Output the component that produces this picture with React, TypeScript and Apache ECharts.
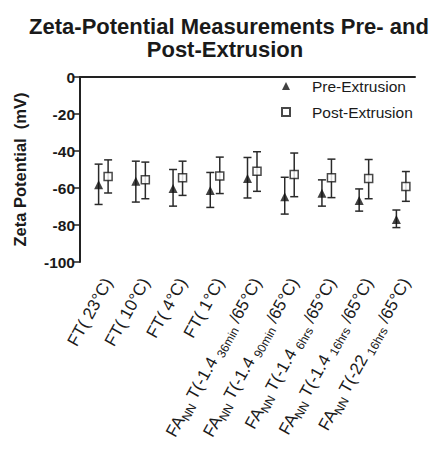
import React, { useEffect, useRef } from 'react';
import * as echarts from 'echarts';

const categories = [
  '{n|FT( 23°C)}',
  '{n|FT( 10°C)}',
  '{n|FT( 4°C)}',
  '{n|FT( 1°C)}',
  '{n|FA}{s|NN}{n| T(-1.4 }{s|36min}{n| /65°C)}',
  '{n|FA}{s|NN}{n| T(-1.4 }{s|90min}{n| /65°C)}',
  '{n|FA}{s|NN}{n| T(-1.4 }{s|6hrs}{n| /65°C)}',
  '{n|FA}{s|NN}{n| T(-1.4 }{s|16hrs}{n| /65°C)}',
  '{n|FA}{s|NN}{n| T(-22 }{s|16hrs}{n| /65°C)}',
];

const preMean = [-58.2, -56.4, -60.3, -61.4, -54.9, -64.7, -62.9, -66.8, -77.0];
const preHigh = [-47.1, -45.5, -50.0, -51.6, -43.5, -54.2, -55.6, -60.5, -71.9];
const preLow = [-68.9, -67.6, -69.8, -70.5, -65.4, -74.1, -69.8, -72.5, -81.4];

const postMean = [-53.8, -55.6, -54.5, -53.5, -50.9, -52.7, -54.5, -54.9, -59.2];
const postHigh = [-44.8, -46.0, -45.5, -43.3, -40.4, -41.1, -44.4, -44.6, -51.1];
const postLow = [-62.7, -65.8, -64.0, -63.0, -61.8, -64.7, -65.2, -65.8, -67.2];

const yTicks = [0, -20, -40, -60, -80, -100];

const FONT = "'Liberation Sans', Arial, Helvetica, sans-serif";
const INK = '#1a1a1a';
const POST_OFFSET = 9.5;

function errorBars(name: string, low: number[], high: number[], offset: number) {
  return {
    name,
    type: 'custom',
    z: 2,
    silent: true,
    encode: { x: 0, y: [1, 2] },
    data: categories.map((_, i) => [i, low[i], high[i]]),
    renderItem: (params: any, api: any) => {
      const idx = api.value(0);
      const pLo = api.coord([idx, api.value(1)]);
      const pHi = api.coord([idx, api.value(2)]);
      const cx = pLo[0] + offset;
      const hw = 4;
      const st = { stroke: '#2a2a2a', lineWidth: 1.5 };
      return {
        type: 'group',
        children: [
          { type: 'line', shape: { x1: cx, y1: pHi[1], x2: cx, y2: pLo[1] }, style: st },
          { type: 'line', shape: { x1: cx - hw, y1: pHi[1], x2: cx + hw, y2: pHi[1] }, style: st },
          { type: 'line', shape: { x1: cx - hw, y1: pLo[1], x2: cx + hw, y2: pLo[1] }, style: st },
        ],
      };
    },
  };
}

export default function App() {
  const ref = useRef<HTMLDivElement>(null);
  useEffect(() => {
    if (!ref.current) return;
    const chart = echarts.init(ref.current, undefined, { renderer: 'svg' });
    chart.setOption({
      animation: false,
      backgroundColor: '#ffffff',
      textStyle: { fontFamily: FONT },
      graphic: [
        {
          type: 'text',
          x: 229,
          y: 26,
          style: {
            text: 'Zeta-Potential Measurements Pre- and',
            font: `bold 22px ${FONT}`,
            fill: INK,
            textAlign: 'center',
            textVerticalAlign: 'middle',
          },
        },
        {
          type: 'text',
          x: 225,
          y: 49,
          style: {
            text: 'Post-Extrusion',
            font: `bold 22px ${FONT}`,
            fill: INK,
            textAlign: 'center',
            textVerticalAlign: 'middle',
          },
        },
      ],
      legend: {
        orient: 'vertical',
        left: 281,
        top: 78,
        itemWidth: 8,
        itemHeight: 8,
        itemGap: 10,
        padding: 0,
        textStyle: { fontSize: 15.5, color: INK, fontFamily: FONT, padding: [0, 0, 0, 17] },
        data: ['Pre-Extrusion', 'Post-Extrusion'],
      },
      grid: { left: 80, right: 16, top: 77, bottom: 192, containLabel: false },
      xAxis: {
        type: 'category',
        data: categories,
        boundaryGap: true,
        axisLine: { lineStyle: { color: '#222', width: 2 } },
        axisTick: { alignWithLabel: true, length: 7, lineStyle: { color: '#222', width: 1.5 } },
        axisLabel: {
          rotate: 61,
          margin: 12,
          interval: 0,
          color: INK,
          verticalAlign: 'top',
          rich: {
            n: { fontSize: 17, lineHeight: 22, color: INK, fontFamily: FONT },
            s: {
              fontSize: 12,
              lineHeight: 12,
              color: INK,
              fontFamily: FONT,
              verticalAlign: 'bottom',
              padding: [10, 0, 0, 0],
            },
          },
        },
        splitLine: { show: false },
      },
      yAxis: {
        type: 'value',
        min: -100,
        max: 0,
        interval: 20,
        name: 'Zeta Potential  (mV)',
        nameLocation: 'middle',
        nameGap: 52,
        nameTextStyle: { fontSize: 16.5, fontWeight: 'bold', color: INK, fontFamily: FONT },
        axisLine: { show: true, lineStyle: { color: '#222', width: 2 } },
        axisTick: { show: true, length: 7, lineStyle: { color: '#222', width: 1.5 } },
        axisLabel: {
          fontSize: 15.5,
          fontWeight: 'bold',
          color: INK,
          margin: 5,
          formatter: (v: number) => (yTicks.includes(v) ? String(v) : ''),
        },
        splitLine: { show: false },
      },
      series: [
        errorBars('preErr', preLow, preHigh, 0),
        errorBars('postErr', postLow, postHigh, POST_OFFSET),
        {
          name: 'Pre-Extrusion',
          type: 'scatter',
          z: 5,
          symbol: 'triangle',
          symbolSize: 9,
          itemStyle: { color: '#111' },
          data: preMean,
        },
        {
          name: 'Post-Extrusion',
          type: 'scatter',
          z: 5,
          symbol: 'rect',
          symbolSize: 8,
          symbolOffset: [POST_OFFSET, 0],
          itemStyle: { color: '#ffffff', borderColor: '#1a1a1a', borderWidth: 1.5 },
          data: postMean,
        },
      ],
    });
    return () => chart.dispose();
  }, []);
  return (
    <div
      ref={ref}
      style={{ position: 'fixed', left: 0, top: 0, width: 431, height: 454, background: '#fff' }}
    />
  );
}
